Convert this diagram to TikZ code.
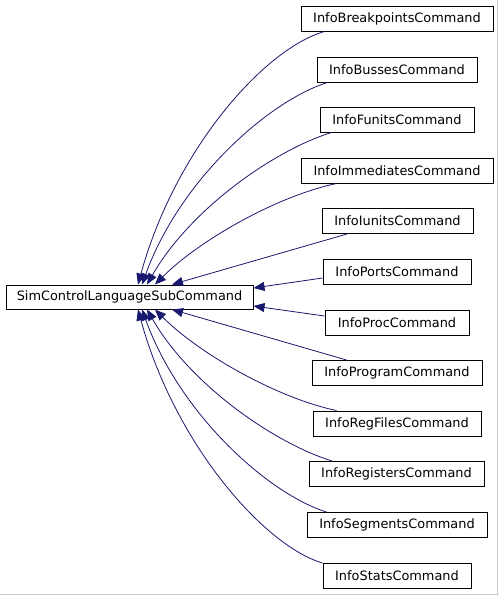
\documentclass[tikz,border=0pt]{standalone}
\usepackage{fontspec}
\setmainfont{DejaVu Sans}
\usetikzlibrary{arrows.meta}
\definecolor{edgeblue}{HTML}{191970}
\definecolor{frameg}{HTML}{C8C8C8}
\begin{document}
\begin{tikzpicture}[x=1pt,y=-1pt,
  cls/.style={draw=black,line width=1pt,fill=white,inner sep=0pt,minimum height=25pt,
    font=\fontsize{12.9}{14}\selectfont},
  edge/.style={draw=edgeblue,line width=0.8pt,-{Triangle[length=11pt,width=9pt]},fill=none},
]
\useasboundingbox (0,0) rectangle (499,595);
\fill[white] (0,0) rectangle (499,595);
\draw[frameg,line width=1pt] (497.5,0) -- (497.5,594.5) -- (0,594.5);

\node[cls,minimum width=247pt,minimum height=24pt] (main) at (129.5,297) {SimControlLanguageSubCommand};

\node[cls,minimum width=192pt] (bp) at (397,18.5) {InfoBreakpointsCommand};
\node[cls,minimum width=160pt] (bu) at (397,69.5) {InfoBussesCommand};
\node[cls,minimum width=154pt] (fu) at (397,119.5) {InfoFunitsCommand};
\node[cls,minimum width=192pt] (im) at (397,170.5) {InfoImmediatesCommand};
\node[cls,minimum width=151pt] (iu) at (397.5,221) {InfoIunitsCommand};
\node[cls,minimum width=148pt] (po) at (397,271.5) {InfoPortsCommand};
\node[cls,minimum width=144pt] (pr) at (397,322.5) {InfoProcCommand};
\node[cls,minimum width=170pt] (pg) at (397,373) {InfoProgramCommand};
\node[cls,minimum width=168pt] (rf) at (397,423.5) {InfoRegFilesCommand};
\node[cls,minimum width=175pt] (rg) at (396.5,474) {InfoRegistersCommand};
\node[cls,minimum width=180pt] (sg) at (397,525) {InfoSegmentsCommand};
\node[cls,minimum width=148pt] (st) at (397,576) {InfoStatsCommand};

% upper edges
\draw[edge] ([xshift=24pt]bp.south west) .. controls +(-60,17) and +(37,-135) .. ([xshift=8.5pt]main.north);
\draw[edge] ([xshift=11pt]bu.south west) .. controls +(-58,18) and +(38,-105) .. ([xshift=12.5pt]main.north);
\draw[edge] ([xshift=12pt]fu.south west) .. controls +(-58,18) and +(43,-75) .. ([xshift=17.5pt]main.north);
\draw[edge] ([xshift=36pt]im.south west) .. controls +(-58,12) and +(45,-45) .. ([xshift=25.5pt]main.north);
\draw[edge] ([xshift=25.5pt]iu.south west) -- ([xshift=42.5pt]main.north);
\draw[edge] ([yshift=-6.5pt]po.west) -- ([yshift=9pt]main.east);
% lower edges
\draw[edge] ([yshift=6.5pt]pr.west) -- ([yshift=-9pt]main.east);
\draw[edge] ([xshift=35pt]pg.north west) -- ([xshift=42.5pt]main.south);
\draw[edge] ([xshift=24pt]rf.north west) .. controls +(-58,-12) and +(45,45) .. ([xshift=25.5pt]main.south);
\draw[edge] ([xshift=23.5pt]rg.north west) .. controls +(-58,-18) and +(43,75) .. ([xshift=17.5pt]main.south);
\draw[edge] ([xshift=20pt]sg.north west) .. controls +(-58,-18) and +(38,105) .. ([xshift=12.5pt]main.south);
\draw[edge] (st.north west) .. controls +(-58,-17) and +(37,135) .. ([xshift=8.5pt]main.south);
\end{tikzpicture}
\end{document}
